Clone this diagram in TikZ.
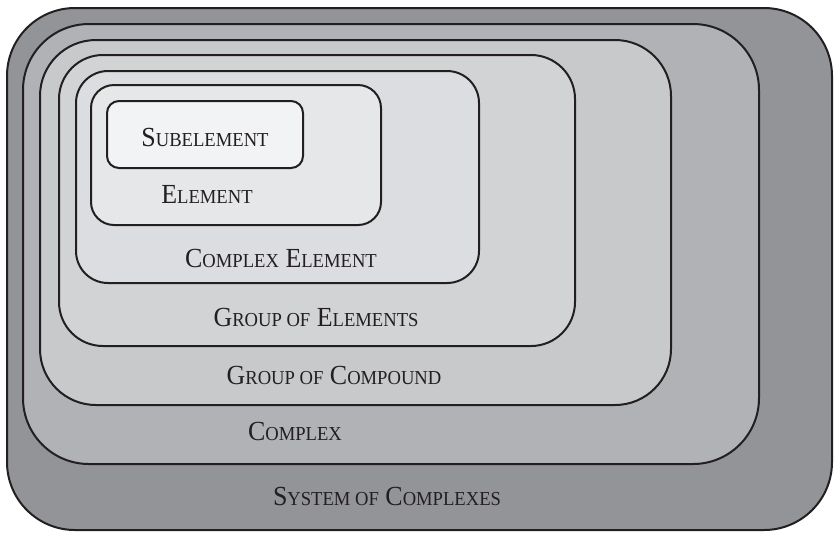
\documentclass[tikz,border=0pt]{standalone}
\usepackage{fontspec}
\setmainfont{Liberation Serif}[FakeStretch=0.94]
\usetikzlibrary{positioning}

\definecolor{lvlone}{HTML}{939498}
\definecolor{lvltwo}{HTML}{B1B2B5}
\definecolor{lvlthree}{HTML}{C8C9CB}
\definecolor{lvlfour}{HTML}{D2D3D5}
\definecolor{lvlfive}{HTML}{DCDDE0}
\definecolor{lvlsix}{HTML}{E6E7E9}
\definecolor{lvlseven}{HTML}{F2F3F4}
\definecolor{edgec}{HTML}{231F20}

% fake small caps %
\newcommand{\smc}[1]{{\fontsize{9.9}{11}\selectfont #1}}

\tikzset{
	layer/.style={draw=edgec, line width=1pt},
	lbl/.style={text=edgec, font=\fontsize{13.8}{15}\selectfont, inner sep=0pt}
}

\begin{document}
\begin{tikzpicture}[x=0.5pt, y=-0.5pt]
	     \useasboundingbox (0,0) rectangle (834,532);
	     % boxes %
		 \draw[layer, fill=lvlone, rounded corners=34pt] (7,8) rectangle (832,530);
		 \draw[layer, fill=lvltwo, rounded corners=33pt] (23,24) rectangle (759,464);
		 \draw[layer, fill=lvlthree, rounded corners=28pt] (40,40) rectangle (671,405);
		 \draw[layer, fill=lvlfour, rounded corners=22pt] (59,55) rectangle (575,346);
		 \draw[layer, fill=lvlfive, rounded corners=16pt] (76,71) rectangle (479,283);
		 \draw[layer, fill=lvlsix, rounded corners=11.5pt] (91,85) rectangle (381,225);
		 \draw[layer, fill=lvlseven, rounded corners=6pt] (107,101) rectangle (303,168);

		 % labels %
		 \node[lbl] (sub) at (205,137) {S\smc{UBELEMENT}};
		 \node[lbl] (elem) at (207,194) {E\smc{LEMENT}};
		 \node[lbl] (cplxelem) at (281,258) {C\smc{OMPLEX} E\smc{LEMENT}};
		 \node[lbl] (grpelem) at (316,317) {G\smc{ROUP OF} E\smc{LEMENTS}};
		 \node[lbl] (grpcomp) at (334,375) {G\smc{ROUP OF} C\smc{OMPOUND}};
		 \node[lbl] (cplx) at (295,431) {C\smc{OMPLEX}};
		 \node[lbl] (sys) at (387,496) {S\smc{YSTEM OF} C\smc{OMPLEXES}};
	     \end{tikzpicture}
\end{document}
